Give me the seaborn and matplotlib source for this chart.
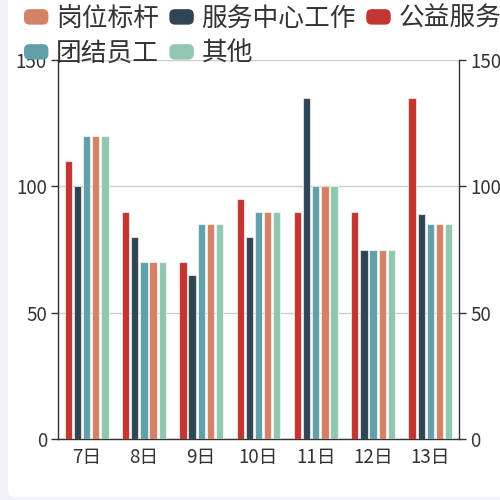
import pandas as pd
import numpy as np
import seaborn as sns
import matplotlib.pyplot as plt
from matplotlib.patches import FancyBboxPatch, Rectangle
from matplotlib.legend_handler import HandlerPatch

# chart data
days = ['7日', '8日', '9日', '10日', '11日', '12日', '13日']
gongyi = [110, 90, 70, 95, 90, 90, 135]        # 公益服务
fuwu = [100, 80, 65, 80, 135, 75, 89]          # 服务中心工作
tuanjie = [120, 70, 85, 90, 100, 75, 85]       # 团结员工
gangwei = [120, 70, 85, 90, 100, 75, 85]       # 岗位标杆
qita = [120, 70, 85, 90, 100, 75, 85]          # 其他

series_names = ['公益服务', '服务中心工作', '团结员工', '岗位标杆', '其他']
colors = {'公益服务': '#c23531', '服务中心工作': '#2f4554', '团结员工': '#61a0a8',
          '岗位标杆': '#d48265', '其他': '#91c7ae'}

rows = []
for name, vals in zip(series_names, [gongyi, fuwu, tuanjie, gangwei, qita]):
    for d, v in zip(days, vals):
        rows.append({'day': d, 'series': name, 'value': v})
df = pd.DataFrame(rows)

sns.set_style('white')
plt.rcParams['font.family'] = ['Noto Sans CJK SC', 'DejaVu Sans']

fig = plt.figure(figsize=(5, 5), dpi=100, facecolor='#f2f3f8')
# white card behind everything
card = FancyBboxPatch((8 / 500, 3 / 500), 1.2, 1.2,
                      boxstyle='round,pad=0,rounding_size=0.016',
                      transform=fig.transFigure, facecolor='white', edgecolor='none', zorder=-10)
fig.patches.append(card)

ax = fig.add_axes([58 / 500, 61 / 500, 401 / 500, 379 / 500])
ax.set_facecolor('none')
sns.barplot(data=df, x='day', y='value', hue='series', hue_order=series_names,
            palette=colors, saturation=1, width=0.8, gap=0.2,
            edgecolor=(1, 1, 1, 0.6), linewidth=0.8, ax=ax, legend=False, zorder=3)

ax.set_ylim(0, 150)
ax.set_xlim(-0.5, len(days) - 0.5)
ax.set_yticks([0, 50, 100, 150])
ax.set_xlabel('')
ax.set_ylabel('')
ax.yaxis.grid(True, color='#cccccc', linewidth=1)
ax.set_axisbelow(True)

ax.spines['top'].set_visible(False)
for side in ['left', 'right', 'bottom']:
    ax.spines[side].set_color('#333333')
    ax.spines[side].set_linewidth(1)

ax.tick_params(axis='y', which='both', left=True, right=True, labelleft=True, labelright=True,
               length=5, width=1, color='#333333', labelsize=13.5, labelcolor='#333333', pad=3)
ax.set_xticks(np.arange(len(days)))
ax.set_xticklabels(days)
ax.set_xticks(np.arange(len(days) + 1) - 0.5, minor=True)
ax.tick_params(axis='x', which='major', length=0, labelsize=13.5, labelcolor='#333333', pad=6)
ax.tick_params(axis='x', which='minor', length=5, width=1, color='#333333')


class RoundHandler(HandlerPatch):
    def create_artists(self, legend, orig_handle, xdescent, ydescent, width, height, fontsize, trans):
        p = FancyBboxPatch((-xdescent, -ydescent), width, height,
                           boxstyle='round,pad=0,rounding_size=4',
                           facecolor=orig_handle.get_facecolor(), edgecolor='none', transform=trans)
        return [p]


handles = {n: Rectangle((0, 0), 1, 1, facecolor=colors[n]) for n in series_names}
# column-major fill so rows read: 岗位标杆 服务中心工作 公益服务 / 团结员工 其他
order = ['岗位标杆', '团结员工', '服务中心工作', '其他', '公益服务']
leg = fig.legend([handles[n] for n in order], order, loc='upper left',
                 bbox_to_anchor=(6 / 500, 1 + 12 / 500), ncol=3, frameon=False,
                 fontsize=18.5, handlelength=0.95, handleheight=0.55, handletextpad=0.3,
                 columnspacing=0.4, labelspacing=0.35, borderpad=0.2,
                 handler_map={Rectangle: RoundHandler()})
leg.set_zorder(20)
for t in leg.get_texts():
    t.set_color('#333333')

fig.savefig('out.png', dpi=100, facecolor=fig.get_facecolor())
